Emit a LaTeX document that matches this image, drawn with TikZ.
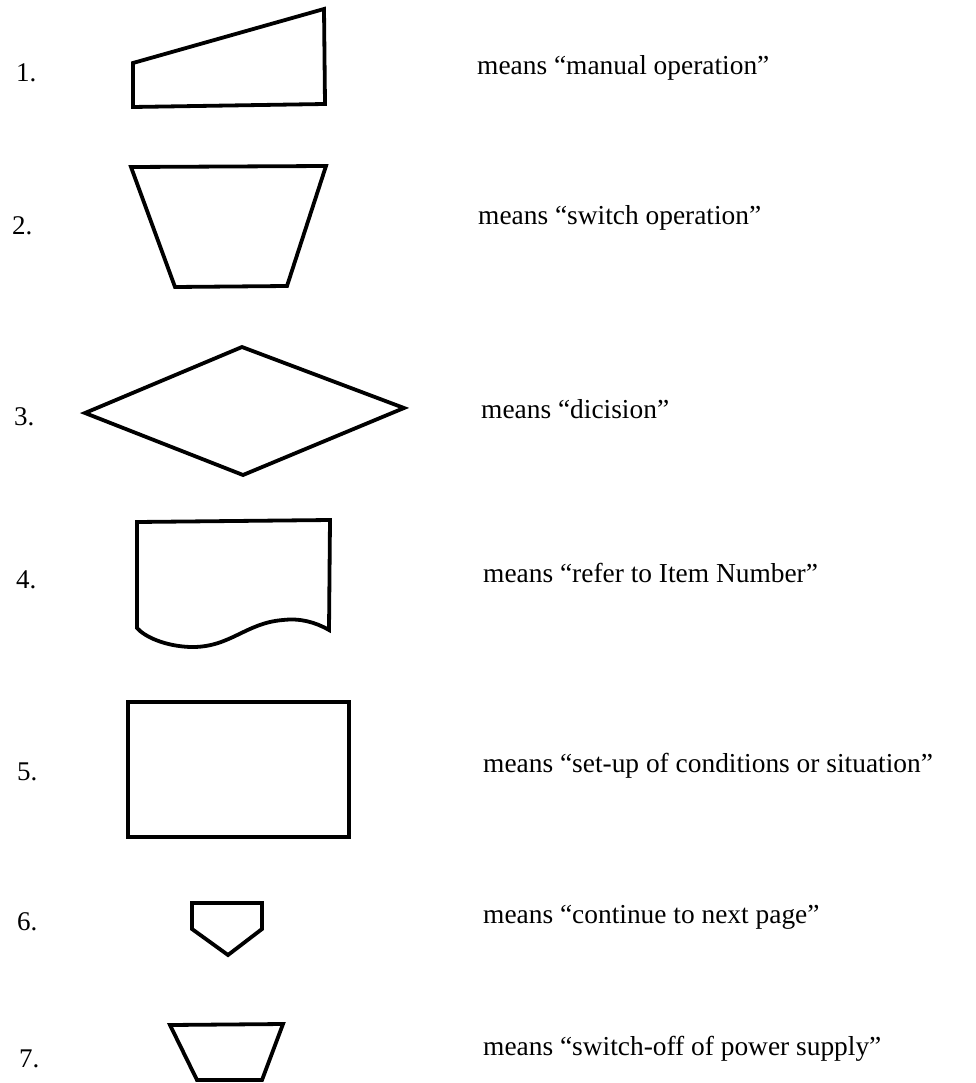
\documentclass[tikz,border=0pt]{standalone}
\usepackage{fontspec}
\setmainfont{Liberation Serif}
\tikzset{
  sym/.style={draw=black, line width=3.8pt, line join=miter},
  num/.style={anchor=base west, inner sep=0pt, font=\fontsize{27}{32}\selectfont},
  desc/.style={anchor=base west, inner sep=0pt, font=\fontsize{27.4}{32}\selectfont},
}
\begin{document}
\begin{tikzpicture}[x=1pt,y=-1pt]
\useasboundingbox (0,0) rectangle (976,1083);
% numbers
\node[num] (n1) at (16,82) {1.};
\node[num] (n2) at (12,235) {2.};
\node[num] (n3) at (14,425) {3.};
\node[num] (n4) at (16,588) {4.};
\node[num] (n5) at (17,780) {5.};
\node[num] (n6) at (17,930) {6.};
\node[num] (n7) at (19,1067) {7.};
% shapes
\draw[sym] (133,63) -- (324,9) -- (325,104) -- (133,107) -- cycle;
\draw[sym] (131,167) -- (326,166) -- (287,286) -- (175,287) -- cycle;
\draw[sym] (85,413) -- (242,347) -- (404,408) -- (243,475) -- cycle;
\draw[sym] (137,628) -- (137,522) -- (330,520) -- (329,630)
  .. controls (315,622) and (300,618) .. (283,620)
  .. controls (245,623) and (230,648) .. (190,647)
  .. controls (165,646) and (145,637) .. (137,628) -- cycle;
\draw[sym] (128,702) rectangle (349,837);
\draw[sym] (192,903) -- (262,903) -- (262,929) -- (228,955) -- (192,929) -- cycle;
\draw[sym] (170,1025) -- (283,1024) -- (262,1080) -- (197,1080) -- cycle;
% descriptions
\node[desc] (d1) at (477,75) {means “manual operation”};
\node[desc] (d2) at (478,225) {means “switch operation”};
\node[desc] (d3) at (481,418) {means “dicision”};
\node[desc] (d4) at (483,582) {means “refer to Item Number”};
\node[desc] (d5) at (483,772) {means “set-up of conditions or situation”};
\node[desc] (d6) at (483,923) {means “continue to next page”};
\node[desc] (d7) at (483,1055) {means “switch-off of power supply”};
\end{tikzpicture}
\end{document}
